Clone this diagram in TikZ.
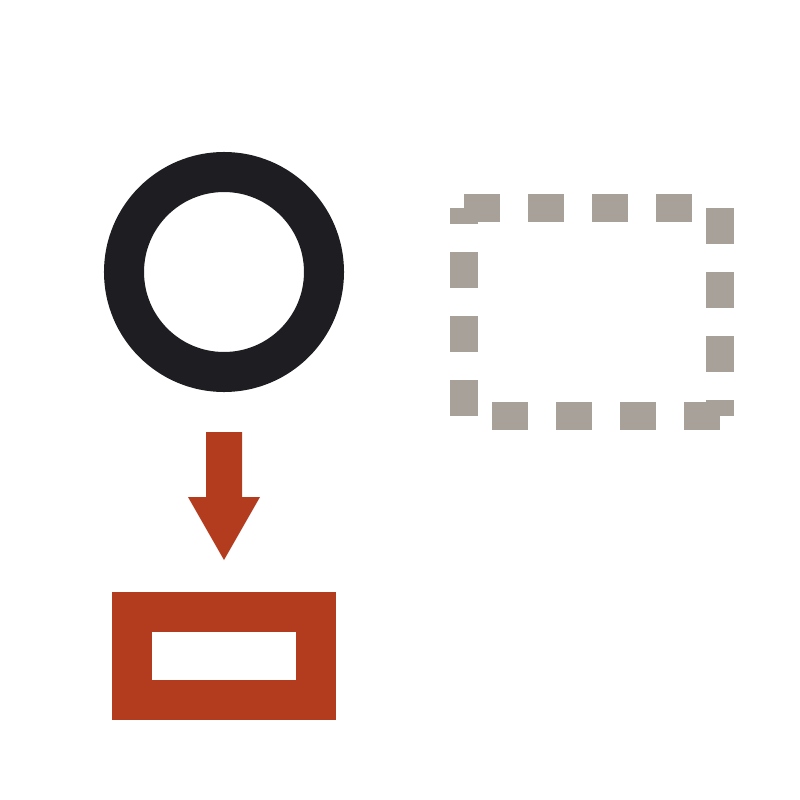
\documentclass[tikz,border=0pt]{standalone}
\usepackage{tikz}
\definecolor{inkdark}{RGB}{30,29,34}
\definecolor{rustred}{RGB}{179,59,30}
\definecolor{stonegray}{RGB}{168,161,153}

\begin{document}
\begin{tikzpicture}[x = 0.01cm, y = -0.01cm]
            \useasboundingbox (0,0) rectangle (800,800);
            \draw[inkdark, line width = 0.4cm] (224,272) circle (100);
            \fill[rustred] (206,432) -- (242,432) -- (242,497) -- (260,497) -- (224,560) -- (188,497) -- (206,497) -- cycle;
            \draw[rustred, line width = 0.4cm] (132,612) rectangle (316,700);

            \begin{scope}[stonegray, line width = 0.28cm, dash pattern = on 0.36cm off 0.28cm]
            \draw (464,208) -- (720,208);
            \draw (720,208) -- (720,416);
            \draw (720,416) -- (464,416);
            \draw (464,416) -- (464,208);
            \end{scope}
        \end{tikzpicture}
\end{document}
